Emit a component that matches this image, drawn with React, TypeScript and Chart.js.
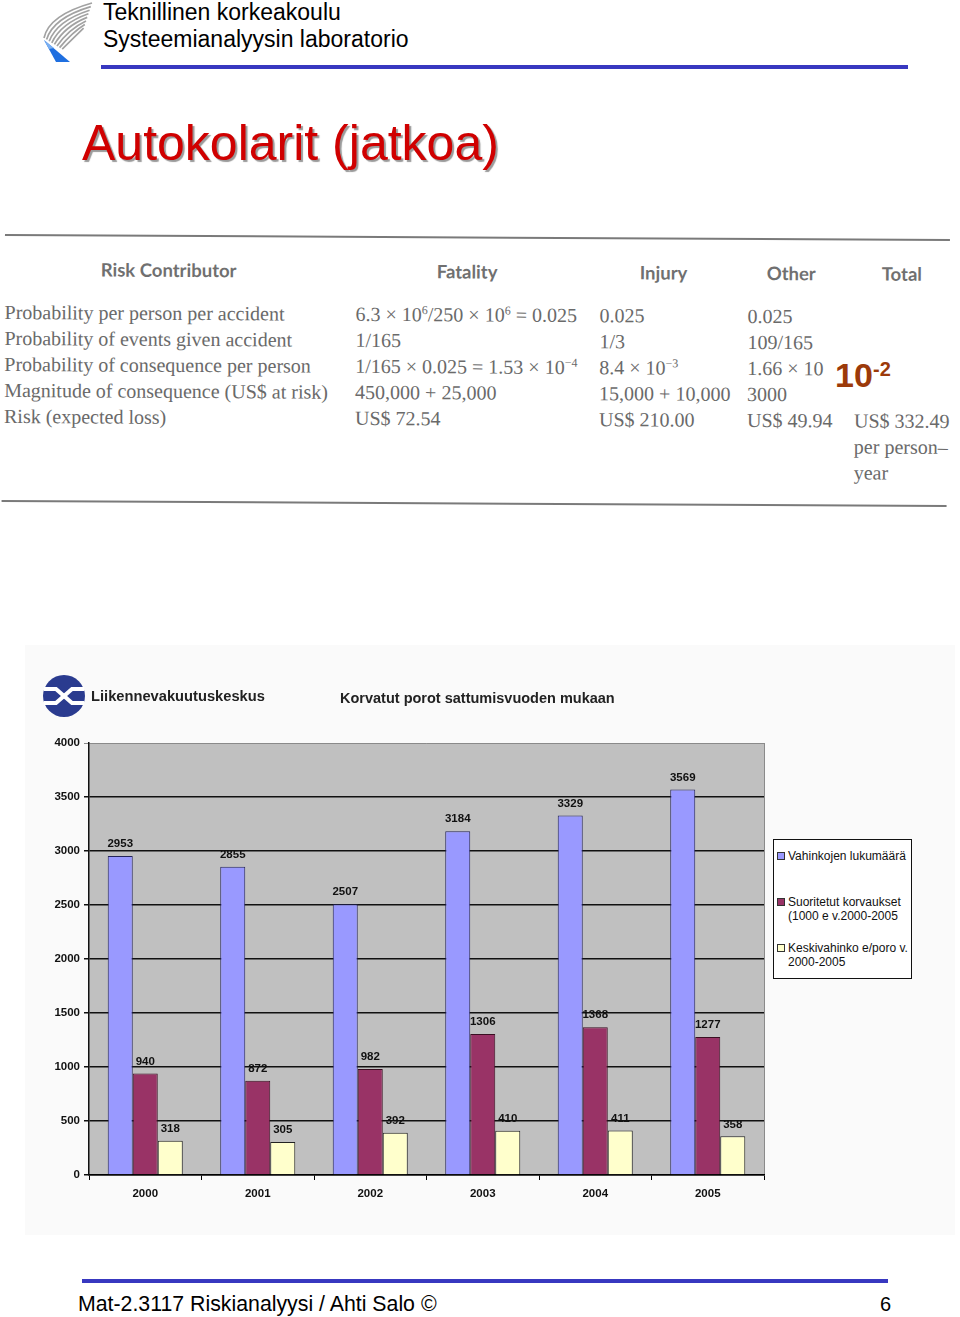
import React, { useEffect, useRef } from "react";
import { Chart, registerables } from "chart.js";
Chart.register(...registerables);

// ---------- chart data ----------
const years = ["2000", "2001", "2002", "2003", "2004", "2005"];
const claimCounts = [2953, 2855, 2507, 3184, 3329, 3569];
const paidCompensation = [940, 872, 982, 1306, 1368, 1277];
const avgDamage = [318, 305, 392, 410, 411, 358];
const seriesNames = [
  "Vahinkojen lukumäärä",
  "Suoritetut korvaukset (1000 e v.2000-2005",
  "Keskivahinko e/poro v. 2000-2005",
];
const legendLines = [
  ["Vahinkojen lukumäärä"],
  ["Suoritetut korvaukset", "(1000 e v.2000-2005"],
  ["Keskivahinko e/poro v.", "2000-2005"],
];
const seriesColors = ["#9999ff", "#993366", "#ffffcc"];
const seriesBorders = ["#24245a", "#3a0f22", "#222222"];
const yMin = 0;
const yMax = 4000;
const yStep = 500;

// ---------- table text ----------
const tableHeaders = ["Risk Contributor", "Fatality", "Injury", "Other", "Total"];
const rowLabels = [
  "Probability per person per accident",
  "Probability of events given accident",
  "Probability of consequence per person",
  "Magnitude of consequence (US$ at risk)",
  "Risk (expected loss)",
];
const fatalityCol = [
  "6.3 × 10^6/250 × 10^6 = 0.025",
  "1/165",
  "1/165 × 0.025 = 1.53 × 10^−4",
  "450,000 + 25,000",
  "US$ 72.54",
];
const injuryCol = ["0.025", "1/3", "8.4 × 10^−3", "15,000 + 10,000", "US$ 210.00"];
const otherCol = ["0.025", "109/165", "1.66 × 10", "3000", "US$ 49.94"];
const totalCol = ["US$ 332.49", "per person–", "year"];

const SANS = 'Arial, "Liberation Sans", sans-serif';
const SERIF = '"Times New Roman", "Liberation Serif", serif';
const HUM = 'Lato, "Open Sans", sans-serif';

function withSup(s: string) {
  const parts = s.split(/\^([^\s/=]+)/);
  return parts.map((p, i) =>
    i % 2 === 1 ? (
      <span key={i} style={{ fontSize: "0.6em", verticalAlign: "0.6em", lineHeight: 0 }}>
        {p}
      </span>
    ) : (
      <span key={i}>{p}</span>
    )
  );
}

function T(props: {
  x: number;
  base: number;
  size: number;
  family?: string;
  ratio?: number;
  color?: string;
  weight?: any;
  children: any;
  extra?: any;
}) {
  const ratio = props.ratio ?? 0.8465;
  return (
    <div
      style={{
        position: "absolute",
        left: props.x,
        top: props.base - ratio * props.size,
        fontSize: props.size,
        lineHeight: 1,
        fontFamily: props.family ?? SANS,
        color: props.color ?? "#000",
        fontWeight: props.weight ?? "normal",
        whiteSpace: "nowrap",
        ...(props.extra || {}),
      }}
    >
      {props.children}
    </div>
  );
}

const bgPlugin = {
  id: "bgPlugin",
  beforeDraw(chart: any) {
    const { ctx, chartArea, width, height } = chart;
    ctx.save();
    ctx.fillStyle = "#fafafa";
    ctx.fillRect(0, 0, width, height);
    ctx.fillStyle = "#c0c0c0";
    ctx.fillRect(chartArea.left, chartArea.top, chartArea.right - chartArea.left, chartArea.bottom - chartArea.top);
    ctx.strokeStyle = "#8a8a8a";
    ctx.lineWidth = 1;
    ctx.beginPath();
    ctx.moveTo(chartArea.right + 0.5, chartArea.top);
    ctx.lineTo(chartArea.right + 0.5, chartArea.bottom);
    ctx.stroke();
    ctx.restore();
  },
};

const labelPlugin = {
  id: "labelPlugin",
  afterDatasetsDraw(chart: any) {
    const { ctx } = chart;
    ctx.save();
    ctx.font = `bold 11.5px ${SANS}`;
    ctx.fillStyle = "#111";
    ctx.textAlign = "center";
    ctx.textBaseline = "middle";
    chart.data.datasets.forEach((ds: any, i: number) => {
      const meta = chart.getDatasetMeta(i);
      meta.data.forEach((bar: any, j: number) => {
        ctx.fillText(String(ds.data[j]), bar.x, bar.y - 12);
      });
    });
    ctx.restore();
  },
};

function BarChart() {
  const ref = useRef<HTMLCanvasElement>(null);
  useEffect(() => {
    if (!ref.current) return;
    const tickFont = { family: SANS, size: 11.5, weight: "bold" as const };
    const chart = new Chart(ref.current, {
      type: "bar",
      data: {
        labels: years,
        datasets: [claimCounts, paidCompensation, avgDamage].map((d, i) => ({
          label: seriesNames[i],
          data: d,
          backgroundColor: seriesColors[i],
          borderColor: seriesBorders[i],
          borderWidth: 1,
          categoryPercentage: 0.667,
          barPercentage: 1,
        })),
      },
      options: {
        responsive: false,
        animation: false,
        layout: { padding: { left: 0, top: 98, right: 191, bottom: 0 } },
        plugins: { legend: { display: false }, tooltip: { enabled: false }, title: { display: false } },
        scales: {
          x: {
            grid: { offset: true, drawOnChartArea: false, drawTicks: true, tickLength: 5, color: "#000" },
            border: { display: true, color: "#000", width: 1.5 },
            ticks: { font: tickFont, color: "#111", padding: 7 },
            afterFit: (s: any) => {
              s.height = 60;
            },
          },
          y: {
            min: yMin,
            max: yMax,
            ticks: {
              stepSize: yStep,
              font: tickFont,
              color: "#111",
              padding: 4,
              callback: (v: any) => String(v),
            },
            grid: {
              color: (c: any) => (c.tick && c.tick.value === yMax ? "#8a8a8a" : "#111"),
              lineWidth: (c: any) => (c.tick && c.tick.value === yMax ? 1 : 1.5),
              tickLength: 5,
            },
            border: { display: true, color: "#111", width: 1.5 },
            afterFit: (s: any) => {
              s.width = 64;
            },
          },
        },
      } as any,
      plugins: [bgPlugin, labelPlugin],
    });
    return () => chart.destroy();
  }, []);
  return (
    <canvas
      ref={ref}
      width={930}
      height={590}
      style={{ position: "absolute", left: 25, top: 645, width: 930, height: 590 }}
    />
  );
}

function TkkLogo() {
  const curves = [];
  for (let i = 0; i < 8; i++) {
    curves.push(
      <path
        key={i}
        d={`M ${44 + i * 2.6} ${38 + i * 1.6} Q ${49 + i * 4} ${15 + i * 2.8} ${92 - i * 1.2} ${3 + i * 3.6}`}
        stroke="#a2a2a2"
        strokeWidth={1.7}
        fill="none"
      />
    );
  }
  return (
    <svg width={100} height={70} style={{ position: "absolute", left: 0, top: 0 }}>
      {curves}
      <polygon points="44,40 70,62 56,62" fill="#1f6fe0" />
      <polygon points="44,40 54,48 49,49" fill="#7ab0f2" />
    </svg>
  );
}

function LvkLogo() {
  return (
    <svg width={50} height={50} style={{ position: "absolute", left: 39, top: 671 }}>
      <circle cx={25} cy={25} r={21} fill="#2a3b8f" />
      <polyline points="5,18 17,18 25,25 33,18 45,18" stroke="#fff" strokeWidth={4} fill="none" />
      <polyline points="5,32 17,32 25,25 33,32 45,32" stroke="#fff" strokeWidth={4} fill="none" />
    </svg>
  );
}

export default function App() {
  const rowBases = [89, 115, 141, 167, 193];
  const totalBases = [193, 219, 245];
  const cols = [
    { x: 356, data: fatalityCol },
    { x: 600, data: injuryCol },
    { x: 748, data: otherCol },
  ];
  const headerX = [101, 437, 640, 767, 882];
  const bodyColor = "#6a6a6a";
  const SR = 0.8375;
  return (
    <div style={{ position: "relative", width: 960, height: 1317, background: "#fff", overflow: "hidden" }}>
      <style>{`body{margin:0}`}</style>
      <TkkLogo />
      <T x={103} base={20} size={23}>Teknillinen korkeakoulu</T>
      <T x={103} base={47} size={23}>Systeemianalyysin laboratorio</T>
      <div style={{ position: "absolute", left: 101, top: 65, width: 807, height: 4, background: "#3838c0" }} />
      <T x={82} base={160} size={50} color="#d00000" extra={{ textShadow: "2px 2px 1px #9a9a9a" }}>
        Autokolarit (jatkoa)
      </T>

      {/* scanned table */}
      <div
        style={{
          position: "absolute",
          left: 0,
          top: 230,
          width: 960,
          height: 285,
          transform: "rotate(0.3deg)",
          transformOrigin: "0 0",
        }}
      >
        <div style={{ position: "absolute", left: 5, top: 4, width: 945, height: 2, background: "#7a7a7a" }} />
        <div style={{ position: "absolute", left: 3, top: 270, width: 945, height: 2, background: "#7a7a7a" }} />
        {tableHeaders.map((h, i) => (
          <T key={h} x={headerX[i]} base={46} size={18.5} family={HUM} ratio={0.887} weight="bold" color="#707070">
            {h}
          </T>
        ))}
        {rowLabels.map((r, i) => (
          <T key={r} x={5} base={rowBases[i]} size={20} family={SERIF} ratio={SR} color={bodyColor}>
            {r}
          </T>
        ))}
        {cols.map((c, ci) =>
          c.data.map((v, i) => (
            <T key={ci + "-" + i} x={c.x} base={rowBases[i]} size={20} family={SERIF} ratio={SR} color={bodyColor}>
              {withSup(v)}
            </T>
          ))
        )}
        {totalCol.map((v, i) => (
          <T key={"t" + i} x={855} base={totalBases[i]} size={20} family={SERIF} ratio={SR} color={bodyColor}>
            {v}
          </T>
        ))}
      </div>
      <T x={835} base={387} size={34} weight="bold" color="#9c3a0a">
        10
      </T>
      <T x={873} base={376} size={20} weight="bold" color="#9c3a0a">
        -2
      </T>

      {/* chart */}
      <BarChart />
      <LvkLogo />
      <T x={91} base={701} size={14.7} weight="bold" color="#222">
        Liikennevakuutuskeskus
      </T>
      <T x={340} base={703} size={14.5} weight="bold" color="#222">
        Korvatut porot sattumisvuoden mukaan
      </T>
      <div
        style={{
          position: "absolute",
          left: 773,
          top: 839,
          width: 137,
          height: 138,
          background: "#fff",
          border: "1px solid #111",
        }}
      />
      {legendLines.map((lines, i) => {
        const y0 = [856, 902, 948][i];
        return (
          <React.Fragment key={i}>
            <div
              style={{
                position: "absolute",
                left: 777,
                top: y0 - 4,
                width: 6,
                height: 6,
                background: seriesColors[i],
                border: "1px solid #333",
              }}
            />
            {lines.map((ln, k) => (
              <T key={k} x={788} base={y0 + 4.5 + k * 14} size={12} color="#111">
                {ln}
              </T>
            ))}
          </React.Fragment>
        );
      })}

      {/* footer */}
      <div style={{ position: "absolute", left: 82, top: 1279, width: 806, height: 4, background: "#3838c0" }} />
      <T x={78} base={1312} size={21.3}>
        Mat-2.3117 Riskianalyysi / Ahti Salo ©
      </T>
      <T x={880} base={1311} size={20}>
        6
      </T>
    </div>
  );
}
